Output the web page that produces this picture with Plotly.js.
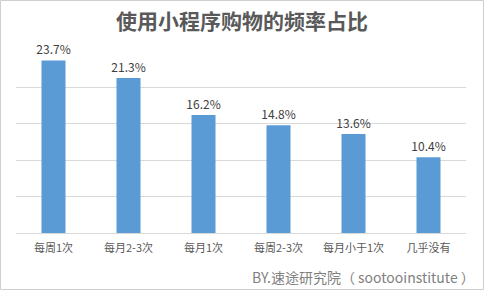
<!DOCTYPE html>
<html><head><meta charset="utf-8">
<script src="https://cdn.plot.ly/plotly-3.0.1.min.js"></script>
<style>html,body{margin:0;padding:0;background:#fff}</style>
</head><body>
<div id="chart" style="width:484px;height:290px"></div>
<script>
const categories = ["每周1次", "每月2-3次", "每月1次", "每周2-3次", "每月小于1次", "几乎没有"];
const values = [23.7, 21.3, 16.2, 14.8, 13.6, 10.4];
const valueLabels = values.map(v => v.toFixed(1) + "%");
const titleText = "使用小程序购物的频率占比";
const creditText = "BY.速途研究院（ sootooinstitute ）";

const font = '"Noto Sans CJK SC", "Noto Sans", sans-serif';
Plotly.newPlot("chart", [{
  type: "bar",
  x: categories,
  y: values,
  text: valueLabels,
  textposition: "outside",
  constraintext: "none",
  cliponaxis: false,
  textfont: {family: font, size: 12, color: "#404040"},
  marker: {color: "#5B9BD5"},
  width: 0.32,
  hoverinfo: "none"
}], {
  width: 484, height: 290,
  margin: {l: 16, r: 18, t: 51, b: 57},
  paper_bgcolor: "#fff", plot_bgcolor: "#fff",
  font: {family: font, color: "#595959"},
  title: {text: titleText, x: 0.5, xanchor: "center", y: 0.925, yanchor: "middle",
          font: {family: font, size: 21, color: "#595959", weight: "bold"}},
  xaxis: {tickfont: {family: font, size: 11, color: "#595959"}, showline: true, linecolor: "#d9d9d9",
          ticks: "", ticklabelstandoff: 5, fixedrange: true},
  yaxis: {range: [0, 25], dtick: 5, showticklabels: false, showgrid: true, gridcolor: "#d9d9d9",
          zeroline: false, fixedrange: true},
  showlegend: false,
  annotations: [{text: creditText, xref: "paper", yref: "paper", x: 1.025, y: -0.24,
    xanchor: "right", yanchor: "middle", showarrow: false,
    font: {family: font, size: 14, color: "#7f7f7f"}}],
  shapes: [{type: "rect", xref: "paper", yref: "paper", x0: -0.0344, x1: 1.0389, y0: -0.3104, y1: 1.2775,
    line: {width: 1, color: "#cfcfcf"}}]
}, {staticPlot: true});
</script>
</body></html>
